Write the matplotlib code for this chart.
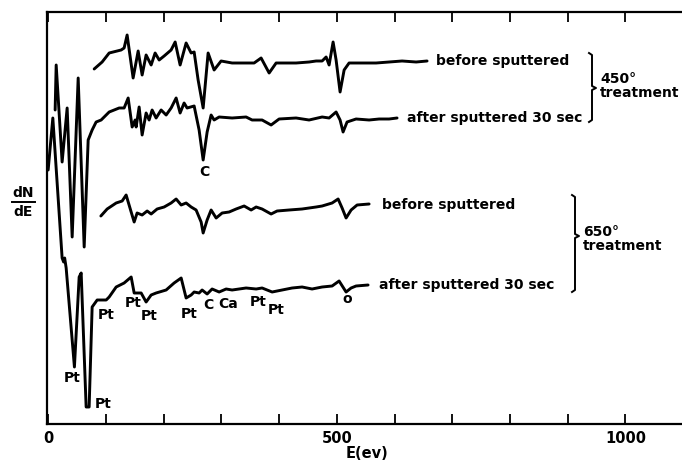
import matplotlib
matplotlib.use("Agg")
import matplotlib.pyplot as plt
import matplotlib.transforms as mtransforms

# ---------------- data (E in eV, dN/dE in arbitrary offset units) ----------------
e_450_before = [79.7, 93.5, 105.7, 126.4, 131.6, 136.8, 147.2, 155.9, 162.8, 169.7, 178.4,
                185.3, 192.3, 200.9, 213.0, 220.0, 228.6, 239.0, 247.7, 252.9, 259.8, 268.5,
                277.1, 287.5, 299.6, 318.7, 336.0, 356.8, 368.9, 382.8, 394.9, 429.5, 452.1,
                464.2, 474.6, 481.5, 486.7, 493.6, 498.8, 505.7, 512.7, 521.3, 543.8, 568.1,
                590.6, 613.1, 637.4, 656.4]
y_450_before = [355, 362, 371, 374, 376, 389, 346, 373, 349, 369, 359,
                371, 364, 368, 374, 382, 359, 381, 371, 372, 344, 316,
                371, 354, 363, 361, 361, 361, 366, 351, 361, 361, 362,
                363, 363, 367, 359, 382, 364, 332, 354, 361, 361, 361,
                362, 363, 362, 363]

e_450_after = [12.1, 13.9, 24.2, 32.9, 41.6, 52.0, 62.4, 69.3, 76.2, 83.1, 91.8, 105.7,
               123.0, 131.6, 138.6, 145.5, 150.7, 152.4, 157.6, 162.8, 169.7, 174.9, 180.1,
               187.0, 195.7, 204.4, 213.0, 221.7, 228.6, 235.5, 240.7, 252.9, 261.5, 268.5,
               275.4, 282.3, 287.5, 296.2, 318.7, 342.9, 353.3, 370.6, 386.2, 400.1, 429.5,
               452.0, 474.6, 486.7, 498.8, 505.7, 510.9, 517.8, 533.4, 556.0, 573.3, 590.6,
               604.4]
y_450_after = [314, 359, 262, 316, 187, 346, 177, 284, 294, 302, 304, 312,
               316, 316, 326, 297, 304, 297, 317, 289, 311, 304, 314,
               306, 314, 309, 316, 326, 311, 321, 316, 318, 294, 264,
               292, 309, 304, 307, 306, 307, 304, 304, 299, 305, 306,
               304, 307, 306, 312, 304, 292, 302, 305, 304, 305, 305,
               306]

e_650_before = [91.3, 102.2, 117.8, 128.2, 135.1, 143.8, 149.0, 154.1, 162.8, 171.5, 178.4,
                188.8, 200.9, 213.0, 221.7, 230.4, 239.0, 247.7, 256.3, 265.0, 268.5, 275.4,
                282.3, 291.0, 301.4, 313.5, 325.6, 339.5, 351.6, 360.3, 370.6, 386.2, 396.6,
                417.4, 439.9, 464.2, 474.6, 491.9, 502.3, 509.2, 516.1, 524.8, 535.2, 556.0]
y_650_before = [208, 215, 221, 223, 229, 212, 202, 211, 209, 213, 210,
                215, 217, 221, 225, 219, 221, 217, 214, 202, 191, 204,
                214, 206, 211, 212, 215, 218, 214, 217, 215, 210, 213,
                214, 215, 217, 218, 221, 225, 216, 206, 214, 219, 220]

e_650_after = [0.0, 8.1, 24.2, 26.8, 28.6, 31.2, 45.5, 53.7, 57.2, 65.8, 71.0, 76.2,
               84.9, 100.5, 105.7, 117.8, 131.6, 143.8, 149.0, 161.1, 169.7, 178.4, 187.0,
               204.4, 218.2, 230.4, 239.0, 247.7, 252.9, 261.5, 266.7, 275.4, 284.0, 296.2,
               308.3, 318.7, 342.9, 360.3, 370.6, 388.0, 405.3, 422.6, 439.9, 457.2, 474.6,
               491.9, 504.0, 516.1, 524.8, 533.4, 554.2]
y_650_after = [254, 306, 166, 162, 166, 156, 57, 147, 151, 17, 17, 117,
               124, 124, 127, 137, 141, 147, 131, 131, 122, 129, 131,
               134, 141, 146, 126, 129, 132, 131, 134, 130, 135, 132,
               135, 134, 136, 135, 136, 132, 134, 136, 137, 135, 137,
               138, 143, 132, 136, 138, 139]

series_labels = ["before sputtered", "after sputtered 30 sec",
                 "before sputtered", "after sputtered 30 sec"]
treatments = ["450°\ntreatment", "650°\ntreatment"]
xtick_values = [0, 100, 200, 300, 400, 500, 600, 700, 800, 900, 1000]
xtick_labels = ["0", "", "", "", "", "500", "", "", "", "", "1000"]

# peak labels on the bottom spectrum (text, figure pixel position)
peak_labels = [("Pt", 72, 378), ("Pt", 103, 404), ("Pt", 106, 315), ("Pt", 133, 303),
               ("Pt", 149, 316), ("Pt", 189, 314), ("C", 208, 305), ("Ca", 228, 304),
               ("Pt", 258, 302), ("Pt", 276, 310), ("o", 347, 299)]

# ---------------- figure ----------------
W, H = 682, 462
fig = plt.figure(figsize=(W / 100, H / 100), dpi=100)
fig.patch.set_facecolor("white")
ax = fig.add_axes([47 / W, (H - 424) / H, (682 - 47) / W, (424 - 12) / H])
ax.set_xlim(-2, 1098)
ax.set_ylim(0, 412)

lw = 2.1
for e, y in [(e_450_before, y_450_before), (e_450_after, y_450_after),
             (e_650_before, y_650_before), (e_650_after, y_650_after)]:
    ax.plot(e, y, color="black", lw=lw, solid_joinstyle="round", solid_capstyle="round")

for s in ["left", "top", "bottom"]:
    ax.spines[s].set_linewidth(1.6)
ax.spines["right"].set_visible(False)
ax.set_xticks(xtick_values)
ax.set_xticklabels(xtick_labels, fontweight="bold")
ax.set_yticks([])
ax.tick_params(axis="x", direction="in", length=7, width=1.3, top=True,
               labelsize=10.5, pad=5)

# pixel transform for annotation placement
pxT = mtransforms.Affine2D().scale(1 / W, -1 / H).translate(0, 1) + fig.transFigure

fs = 10
kw = dict(transform=pxT, fontsize=fs, fontweight="bold", va="center", ha="left")
ax.text(436, 61, series_labels[0], **kw)
ax.text(407, 118, series_labels[1], **kw)
ax.text(382, 205, series_labels[2], **kw)
ax.text(379, 285, series_labels[3], **kw)

def brace(x, y0, y1, ym):
    xs = [x - 3, x, x, x + 4, x, x, x - 3]
    ys = [y0, y0 + 2, ym - 2, ym, ym + 2, y1 - 2, y1]
    ax.plot(xs, ys, color="black", lw=1.4, transform=pxT, clip_on=False)

brace(592, 53, 122, 88)
brace(575, 195, 292, 236)
ax.text(600, 86, treatments[0], linespacing=0.95, **kw)
ax.text(583, 239, treatments[1], linespacing=0.95, **kw)

pk = dict(transform=pxT, fontsize=10, fontweight="bold", ha="center", va="center")
for t, x, y in peak_labels:
    ax.text(x, y, t, **pk)
ax.text(204, 172, "C", **pk)

ax.text(367, 453, "E(ev)", transform=pxT, fontsize=10.5, fontweight="bold",
        ha="center", va="center")
ax.text(23, 193, "dN", transform=pxT, fontsize=10, fontweight="bold",
        ha="center", va="center")
ax.text(23, 212, "dE", transform=pxT, fontsize=10, fontweight="bold",
        ha="center", va="center")
ax.plot([12, 35], [202, 202], color="black", lw=1.4, transform=pxT, clip_on=False)

fig.savefig("out.png", dpi=100)
